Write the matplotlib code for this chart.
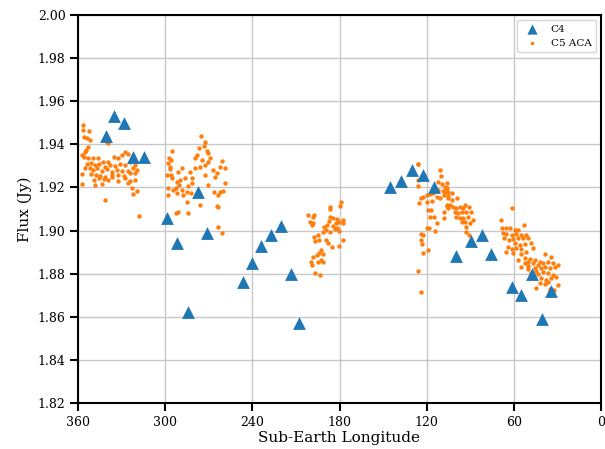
import matplotlib
matplotlib.use('Agg')
import matplotlib.pyplot as plt
import numpy as np

plt.rcParams['font.family'] = ['DejaVu Serif']

# C4 photometry (sub-Earth longitude in deg, flux in Jy)
c4_lon = [340.7, 335.2, 328.3, 321.9, 314.6, 298.5, 291.8, 284.5, 277.6, 271.0,
          246.6, 240.0, 233.8, 227.2, 220.5, 213.6, 207.7,
          145.3, 137.7, 130.3, 122.8, 115.0, 99.8, 89.5, 81.9, 75.7,
          61.5, 55.1, 47.5, 40.4, 34.2]
c4_flux = [1.944, 1.953, 1.950, 1.934, 1.934, 1.906, 1.894, 1.862, 1.918, 1.899,
           1.876, 1.885, 1.893, 1.898, 1.902, 1.880, 1.857,
           1.920, 1.923, 1.928, 1.926, 1.920, 1.888, 1.895, 1.898, 1.889,
           1.874, 1.870, 1.880, 1.859, 1.872]

# C5 ACA points, one pair of lists per cluster
aca1_lon = [356.3, 356.6, 352.4, 355.6, 353.8, 352.0, 353.3, 354.3, 355.2, 357.5,
            355.9, 352.9, 349.4, 346.0, 342.6, 339.1, 335.0, 332.2, 327.7, 325.4,
            330.0, 354.0, 351.1, 348.3, 345.5, 341.4, 338.0, 334.6, 331.1, 327.7,
            324.2, 320.8, 352.0, 349.4, 347.2, 343.7, 340.3, 336.8, 333.4, 330.0,
            325.4, 321.9, 319.6, 351.1, 347.8, 344.9, 341.4, 336.8, 332.2, 328.1,
            324.2, 320.8, 348.8, 345.5, 341.9, 339.1, 332.7, 327.7, 324.2, 320.8,
            357.0, 348.3, 343.7, 325.4, 322.6, 319.6, 321.9, 341.4, 318.0, 357.5,
            355.2, 339.1, 340.3, 336.8]
aca1_flux = [1.9490, 1.9466, 1.9462, 1.9435, 1.9428, 1.9421, 1.9387, 1.9375, 1.9366, 1.9350,
             1.9343, 1.9335, 1.9335, 1.9335, 1.9319, 1.9319, 1.9343, 1.9335, 1.9363, 1.9353,
             1.9350, 1.9307, 1.9312, 1.9304, 1.9307, 1.9296, 1.9304, 1.9301, 1.9307, 1.9304,
             1.9319, 1.9304, 1.9289, 1.9281, 1.9289, 1.9276, 1.9285, 1.9273, 1.9281, 1.9276,
             1.9276, 1.9292, 1.9281, 1.9261, 1.9258, 1.9253, 1.9250, 1.9250, 1.9258, 1.9254,
             1.9265, 1.9265, 1.9234, 1.9242, 1.9239, 1.9234, 1.9230, 1.9242, 1.9230, 1.9234,
             1.9214, 1.9211, 1.9214, 1.9219, 1.9196, 1.9183, 1.9168, 1.9141, 1.9069, 1.9261,
             1.9289, 1.9405, 1.9412, 1.9258]

aca2_lon = [275.4, 272.6, 273.1, 276.8, 271.5, 270.3, 278.4, 279.5, 295.6, 297.4,
            296.0, 298.3, 296.5, 296.9, 299.0, 295.1, 296.0, 291.0, 288.7, 292.1,
            289.8, 286.4, 283.0, 281.8, 279.5, 276.1, 272.6, 270.3, 266.9, 264.6,
            265.7, 261.2, 262.3, 258.9, 258.9, 292.8, 290.5, 288.7, 285.2, 284.1,
            281.3, 297.9, 294.4, 298.3, 292.1, 287.5, 285.2, 282.3, 266.2, 262.3,
            260.0, 263.9, 263.5, 264.6, 276.1, 291.0, 292.8, 284.1, 263.5, 261.2,
            277.2, 269.2, 274.9, 272.6, 270.3]
aca2_flux = [1.9439, 1.9412, 1.9394, 1.9381, 1.9369, 1.9358, 1.9350, 1.9335, 1.9369, 1.9335,
             1.9327, 1.9312, 1.9296, 1.9286, 1.9258, 1.9242, 1.9258, 1.9273, 1.9289, 1.9227,
             1.9234, 1.9242, 1.9273, 1.9242, 1.9289, 1.9296, 1.9304, 1.9320, 1.9281, 1.9265,
             1.9250, 1.9323, 1.9296, 1.9289, 1.9219, 1.9199, 1.9211, 1.9188, 1.9180, 1.9208,
             1.9219, 1.9196, 1.9188, 1.9165, 1.9173, 1.9165, 1.9134, 1.9173, 1.9180, 1.9180,
             1.9183, 1.9165, 1.9110, 1.9115, 1.9118, 1.9087, 1.9080, 1.9080, 1.9018, 1.8987,
             1.9180, 1.9335, 1.9327, 1.9258, 1.9211]

aca3_lon = [179.3, 179.8, 186.2, 186.2, 201.5, 197.6, 198.1, 186.2, 184.3, 187.1,
            200.4, 198.1, 199.2, 181.6, 180.2, 177.5, 177.9, 182.5, 184.3, 188.9,
            190.8, 189.4, 186.6, 181.6, 180.2, 194.6, 197.6, 193.9, 196.9, 189.4,
            187.8, 185.5, 177.9, 180.2, 192.4, 193.9, 195.8, 191.7, 198.5, 193.0,
            194.6, 199.9, 191.7, 199.0, 196.9, 193.5, 183.2, 191.2]
aca3_flux = [1.9134, 1.9114, 1.9111, 1.9098, 1.9072, 1.9072, 1.9061, 1.9061, 1.9057, 1.9046,
             1.9041, 1.9036, 1.9027, 1.9052, 1.9041, 1.9049, 1.9033, 1.9033, 1.9021, 1.9026,
             1.9015, 1.9002, 1.8995, 1.9010, 1.8999, 1.8979, 1.8971, 1.8956, 1.8953, 1.8956,
             1.8940, 1.8922, 1.8956, 1.8928, 1.8910, 1.8897, 1.8886, 1.8891, 1.8879, 1.8863,
             1.8855, 1.8855, 1.8855, 1.8840, 1.8801, 1.8793, 1.9005, 1.8995]

aca4_lon = [125.8, 110.9, 110.2, 125.8, 126.3, 122.4, 112.1, 109.3, 107.5, 106.3,
            105.2, 124.0, 122.4, 120.1, 117.8, 115.5, 113.2, 110.9, 108.0, 105.2,
            125.4, 120.1, 116.2, 106.3, 105.2, 108.0, 119.0, 117.1, 117.8, 114.8,
            108.0, 113.2, 120.1, 118.5, 114.4, 123.6, 122.4, 124.0, 123.1, 119.0,
            122.4, 126.3, 123.6, 108.6, 112.1, 125.9, 121.9,
            105.7, 106.4, 107.0, 102.9, 98.8, 105.2, 104.1, 101.8, 97.2, 94.9,
            93.7, 91.0, 100.6, 98.3, 96.0, 92.6, 89.2, 99.5, 97.2, 94.9,
            91.4, 88.0, 96.0, 93.7, 90.3, 92.6, 92.6, 91.0, 102.9, 99.5, 105.7]
aca4_flux = [1.9307, 1.9281, 1.9254, 1.9234, 1.9208, 1.9250, 1.9223, 1.9214, 1.9203, 1.9196,
             1.9180, 1.9152, 1.9157, 1.9165, 1.9168, 1.9172, 1.9157, 1.9152, 1.9165, 1.9162,
             1.9126, 1.9134, 1.9137, 1.9118, 1.9103, 1.9087, 1.9095, 1.9095, 1.9064, 1.9064,
             1.9056, 1.9033, 1.9013, 1.9013, 1.8998, 1.8982, 1.8979, 1.8956, 1.8936, 1.8909,
             1.8894, 1.8812, 1.8713, 1.9183, 1.9188, 1.9310, 1.9253,
             1.9219, 1.9196, 1.9180, 1.9173, 1.9152, 1.9149, 1.9118, 1.9111, 1.9111, 1.9103,
             1.9118, 1.9111, 1.9087, 1.9080, 1.9087, 1.9084, 1.9087, 1.9064, 1.9056, 1.9060,
             1.9064, 1.9049, 1.9041, 1.9038, 1.9033, 1.9018, 1.8995, 1.8979, 1.9142, 1.9103, 1.9115]

aca5_lon = [61.2, 68.5, 52.9, 68.1, 65.1, 62.8, 58.9, 57.05, 67.4, 65.1,
            61.6, 58.2, 54.8, 51.3, 66.7, 63.5, 60.5, 57.05, 53.6, 50.2,
            59.3, 55.9, 52.5, 47.9, 46.7, 63.9, 61.6, 58.2, 54.8, 51.3,
            65.1, 60.5, 55.2, 52.5, 49.0, 45.6, 42.1, 38.7, 34.1, 57.05,
            50.2, 46.7, 43.3, 39.8, 36.4, 33.0, 29.5, 55.2, 50.2, 45.6,
            41.5, 38.3, 35.3, 31.8, 47.9, 43.3, 39.8, 36.4, 33.0, 41.0,
            37.6, 34.1, 30.7, 42.1, 38.7, 36.4, 29.5, 44.4, 35.3, 33.0,
            32.3, 34.1, 50.2, 44.4, 52.5]
aca5_flux = [1.9103, 1.9049, 1.9026, 1.9010, 1.9013, 1.9010, 1.9002, 1.9002, 1.8987, 1.8982,
             1.8979, 1.8982, 1.8979, 1.8979, 1.8964, 1.8956, 1.8961, 1.8964, 1.8964, 1.8967,
             1.8941, 1.8933, 1.8936, 1.8941, 1.8917, 1.8925, 1.8914, 1.8917, 1.8914, 1.8902,
             1.8902, 1.8894, 1.8889, 1.8871, 1.8868, 1.8863, 1.8856, 1.8889, 1.8879, 1.8863,
             1.8856, 1.8848, 1.8840, 1.8848, 1.8856, 1.8848, 1.8840, 1.8832, 1.8821, 1.8825,
             1.8828, 1.8832, 1.8825, 1.8832, 1.8801, 1.8797, 1.8806, 1.8801, 1.8794, 1.8778,
             1.8770, 1.8778, 1.8786, 1.8755, 1.8750, 1.8760, 1.8747, 1.8732, 1.8729, 1.8716,
             1.8724, 1.8709, 1.8837, 1.8812, 1.8848]

aca_lon = aca1_lon + aca2_lon + aca3_lon + aca4_lon + aca5_lon
aca_flux = aca1_flux + aca2_flux + aca3_flux + aca4_flux + aca5_flux

fig = plt.figure(figsize=(6.05, 4.49), dpi=100)
ax = fig.add_axes([78/605, 1 - 403/449, (601 - 78)/605, (403 - 15)/449])

ax.grid(True, color='#c8c8c8', lw=1, zorder=0)
ax.set_axisbelow(True)
ax.scatter(c4_lon, c4_flux, marker='^', s=85, color='#1f77b4', label='C4', zorder=3,
           linewidths=0)
ax.scatter(aca_lon, aca_flux, marker='o', s=10, color='#ff7f0e', label='C5 ACA', zorder=2,
           linewidths=0)

ax.set_xlim(360, 0)
ax.set_ylim(1.82, 2.00)
ax.set_xticks([360, 300, 240, 180, 120, 60, 0])
ax.set_yticks(np.arange(1.82, 2.001, 0.02))
ax.set_yticklabels([f'{v:.2f}' for v in np.arange(1.82, 2.001, 0.02)])
ax.tick_params(direction='out', length=6, width=1.5, labelsize=9, pad=3)
for sp in ax.spines.values():
    sp.set_linewidth(1.5)
    sp.set_color('black')

ax.set_xlabel('Sub-Earth Longitude', fontsize=11, labelpad=2)
ax.set_ylabel('Flux (Jy)', fontsize=11, labelpad=4)
ax.legend(loc='upper right', fontsize=7.5, markerscale=0.8)

fig.savefig('out.png', dpi=100)
